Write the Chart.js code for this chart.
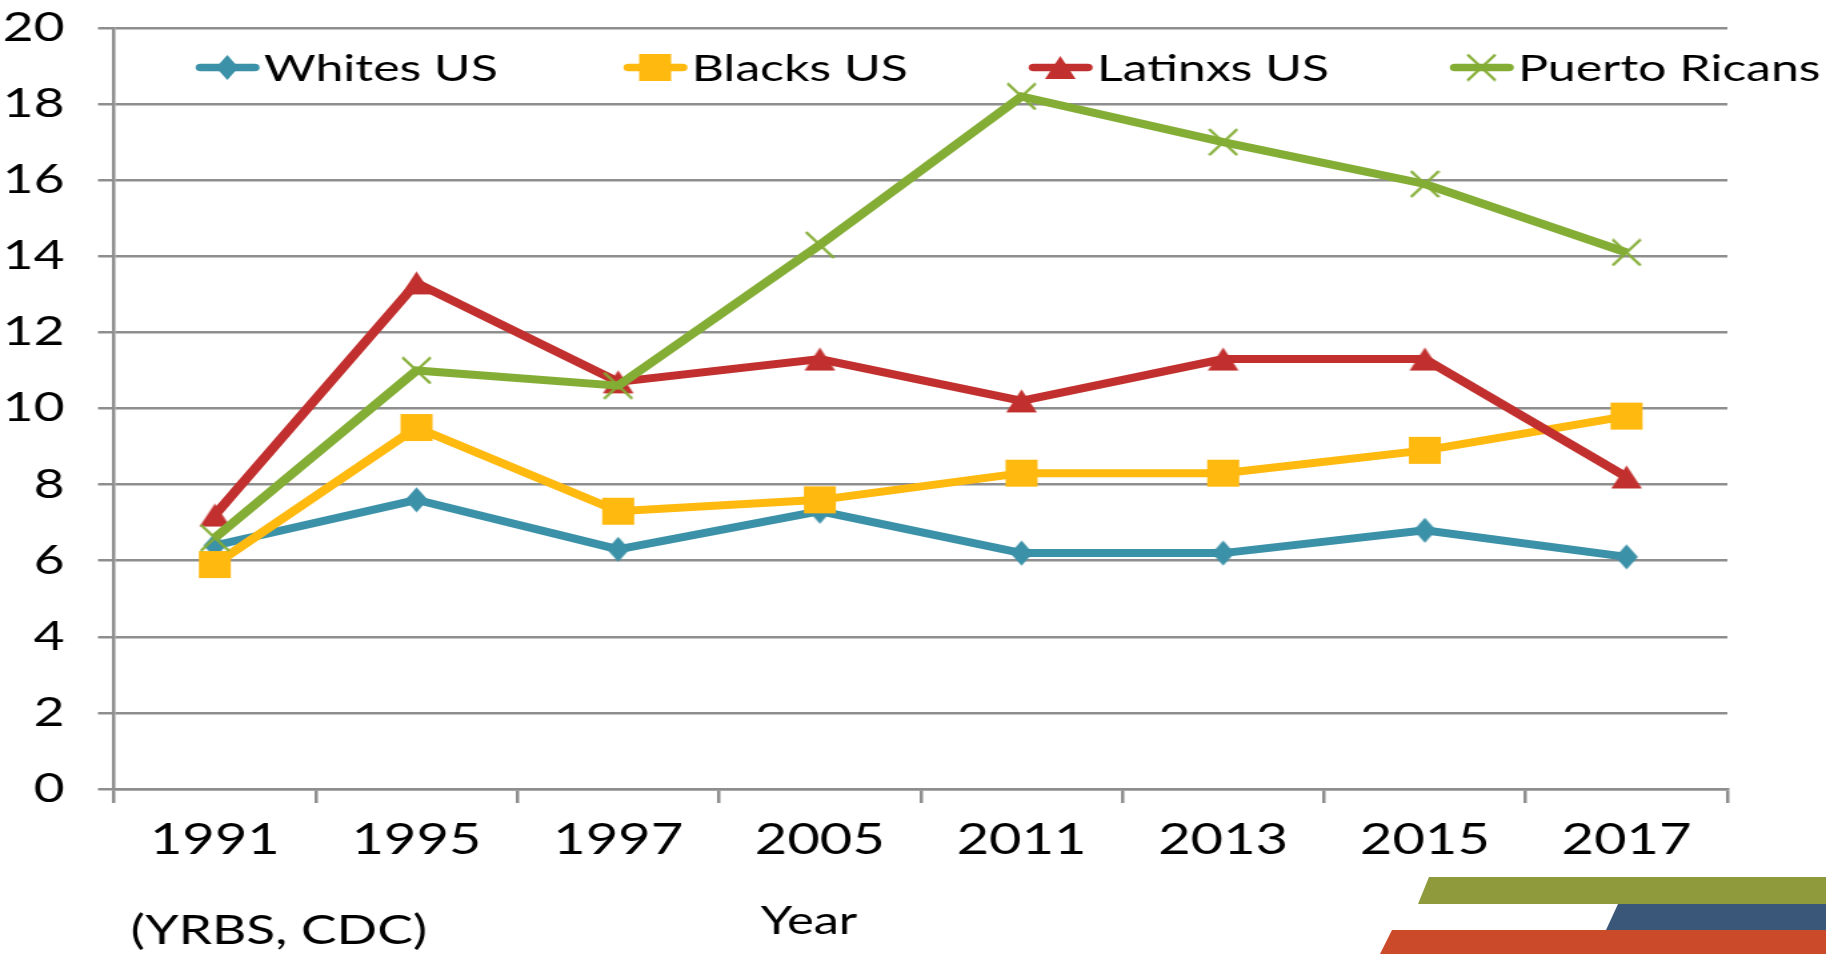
<!DOCTYPE html>
<html>
<head>
<meta charset="utf-8">
<script src="https://cdn.jsdelivr.net/npm/chart.js@4.4.1/dist/chart.umd.min.js"></script>
<style>
html,body{margin:0;padding:0;background:#fff;overflow:hidden;width:1826px;height:954px;}
#wrap{position:absolute;left:0;top:0;width:1370px;height:954px;transform-origin:0 0;transform:scaleX(1.33285);}
.bar{position:absolute;}
</style>
</head>
<body>
<div id="wrap"><canvas id="c" width="1370" height="954" style="width:1370px;height:954px"></canvas></div>
<div class="bar" style="left:1418px;top:877px;width:408px;height:27px;background:#8F9A3C;clip-path:polygon(11px 0,100% 0,100% 100%,0 100%)"></div>
<div class="bar" style="left:1606px;top:904px;width:220px;height:26px;background:#3A5779;clip-path:polygon(12px 0,100% 0,100% 100%,0 100%)"></div>
<div class="bar" style="left:1380px;top:930px;width:446px;height:24px;background:#CB4A29;clip-path:polygon(12px 0,100% 0,100% 100%,0 100%)"></div>
<script>
// ---- data ----
const years = ['1991', '1995', '1997', '2005', '2011', '2013', '2015', '2017'];
const whitesUS = [6.4, 7.6, 6.3, 7.3, 6.2, 6.2, 6.8, 6.1];
const blacksUS = [5.9, 9.5, 7.3, 7.6, 8.3, 8.3, 8.9, 9.8];
const latinxsUS = [7.2, 13.3, 10.7, 11.3, 10.2, 11.3, 11.3, 8.2];
const puertoRicans = [6.6, 11.0, 10.6, 14.3, 18.2, 17.0, 15.9, 14.1];
const seriesNames = ['Whites US', 'Blacks US', 'Latinxs US', 'Puerto Ricans'];
const yMin = 0, yMax = 20, yStep = 2;
const xTitle = 'Year';
const sourceNote = '(YRBS, CDC)';

// ---- styling ----
const colors = ['#3B91A8', '#FFB90F', '#C1302E', '#84AD35'];
const FONT = 'Lato';
const GRID = '#8E8E8E';
const legendStarts = [147, 468, 772, 1088];

function makeMarker(kind, color) {
  const c = document.createElement('canvas');
  let w, h;
  if (kind === 'diamond') { w = 17; h = 25; }
  else if (kind === 'square') { w = 24; h = 27; }
  else if (kind === 'triangle') { w = 23; h = 23; }
  else { w = 21; h = 26; }
  c.width = w + 2; c.height = h + 2;
  const g = c.getContext('2d');
  const cx = c.width / 2, cy = c.height / 2;
  g.fillStyle = color; g.strokeStyle = color;
  g.beginPath();
  if (kind === 'diamond') {
    g.moveTo(cx, cy - h / 2); g.lineTo(cx + w / 2, cy); g.lineTo(cx, cy + h / 2); g.lineTo(cx - w / 2, cy); g.closePath(); g.fill();
  } else if (kind === 'square') {
    g.rect(cx - w / 2, cy - h / 2, w, h); g.fill();
  } else if (kind === 'triangle') {
    g.moveTo(cx, cy - h / 2); g.lineTo(cx + w / 2, cy + h / 2); g.lineTo(cx - w / 2, cy + h / 2); g.closePath(); g.fill();
  } else {
    g.lineWidth = 2.2;
    g.moveTo(cx - w / 2, cy - h / 2); g.lineTo(cx + w / 2, cy + h / 2);
    g.moveTo(cx + w / 2, cy - h / 2); g.lineTo(cx - w / 2, cy + h / 2);
    g.stroke();
  }
  return c;
}
const markers = [
  makeMarker('diamond', colors[0]),
  makeMarker('square', colors[1]),
  makeMarker('triangle', colors[2]),
  makeMarker('cross', colors[3])
];
const seriesData = [whitesUS, blacksUS, latinxsUS, puertoRicans];

const legendPlugin = {
  id: 'inlineLegend',
  afterDraw(chart) {
    const ctx = chart.ctx;
    ctx.save();
    ctx.font = '37.5px ' + FONT;
    ctx.textBaseline = 'middle';
    ctx.textAlign = 'left';
    const y = 67.5;
    chart.data.datasets.forEach((ds, i) => {
      const x = legendStarts[i];
      ctx.strokeStyle = ds.borderColor;
      ctx.lineWidth = 7.5;
      ctx.lineCap = 'round';
      ctx.beginPath();
      ctx.moveTo(x + 3.5, y);
      ctx.lineTo(x + 44, y);
      ctx.stroke();
      const m = ds.pointStyle;
      ctx.drawImage(m, x + 23.5 - m.width / 2, y - m.height / 2);
      ctx.fillStyle = '#000';
      ctx.fillText(ds.label, x + 51, y + 1);
    });
    // axis title & source note
    ctx.font = '38px ' + FONT;
    ctx.textAlign = 'center';
    ctx.fillText(xTitle, 607, 922);
    ctx.font = '40px ' + FONT;
    ctx.textAlign = 'left';
    ctx.fillText(sourceNote, 98, 931);
    ctx.restore();
  }
};

function build() {
  Chart.defaults.font.family = FONT;
  Chart.defaults.color = '#000';
  new Chart(document.getElementById('c'), {
    type: 'line',
    data: {
      labels: years,
      datasets: seriesData.map((d, i) => ({
        label: seriesNames[i],
        data: d,
        borderColor: colors[i],
        backgroundColor: colors[i],
        borderWidth: 8,
        pointStyle: markers[i],
        pointRadius: 10,
        tension: 0,
        fill: false,
        order: 4 - i
      }))
    },
    options: {
      responsive: false,
      animation: false,
      devicePixelRatio: 1,
      layout: { padding: { top: 28, right: 74, bottom: 0, left: 0 } },
      plugins: { legend: { display: false }, tooltip: { enabled: false }, title: { display: false } },
      scales: {
        x: {
          type: 'category',
          offset: true,
          grid: { offset: true, drawOnChartArea: false, drawTicks: true, tickLength: 14, color: GRID, lineWidth: 2.5 },
          border: { display: true, color: GRID, width: 2.5 },
          ticks: { font: { size: 42 }, color: '#000', padding: 12, maxRotation: 0, autoSkip: false },
          afterFit(scale) { scale.height = 954 - 789; scale.paddingLeft = 0; scale.paddingRight = 0; }
        },
        y: {
          min: yMin, max: yMax,
          grid: { color: GRID, lineWidth: 2.5, tickLength: 12, drawTicks: true },
          border: { display: true, color: GRID, width: 2.5 },
          ticks: { stepSize: yStep, font: { size: 40 }, color: '#000', padding: 25 },
          afterFit(scale) { scale.width = 85.5; scale.paddingTop = 0; scale.paddingBottom = 0; }
        }
      }
    },
    plugins: [legendPlugin]
  });
}
if (document.fonts && document.fonts.load) {
  document.fonts.load('42px ' + FONT).then(build, build);
} else { build(); }
</script>
</body>
</html>
